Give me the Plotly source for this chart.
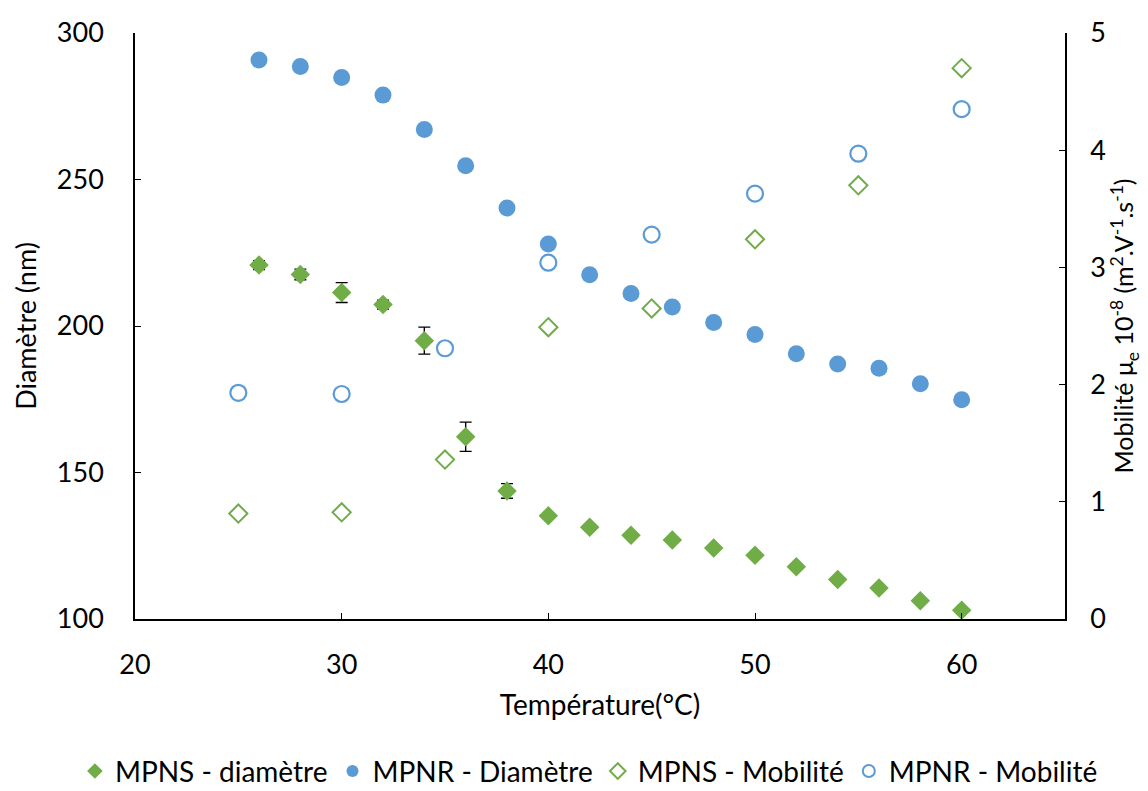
import plotly.graph_objects as go

# MPNS diameter (filled green diamonds) with error bars
mpns_d_x = [26, 28, 30, 32, 34, 36, 38, 40, 42, 44, 46, 48, 50, 52, 54, 56, 58, 60]
mpns_d_y = [220.8, 217.6, 211.4, 207.3, 195.0, 162.2, 143.7, 135.2, 131.3, 128.6, 127.0, 124.2, 121.8, 117.8, 113.5, 110.6, 106.2, 103.0]
mpns_d_err = [1.5, 1.8, 3.4, 1.5, 4.6, 5.0, 2.5, 0, 0, 0, 0, 0, 0, 0, 0, 0, 0, 0]

# MPNR diameter (filled blue circles)
mpnr_d_x = [26, 28, 30, 32, 34, 36, 38, 40, 42, 44, 46, 48, 50, 52, 54, 56, 58, 60]
mpnr_d_y = [290.8, 288.6, 284.8, 278.8, 267.1, 254.7, 240.3, 228.0, 217.5, 211.1, 206.5, 201.2, 197.1, 190.5, 187.0, 185.6, 180.3, 174.8]

# Mobility (right axis)
mob_x = [25, 30, 35, 40, 45, 50, 55, 60]
mpns_mob = [0.90, 0.91, 1.36, 2.49, 2.65, 3.24, 3.70, 4.70]
mpnr_mob = [1.93, 1.92, 2.31, 3.04, 3.28, 3.63, 3.97, 4.35]

green = "#70AD47"
blue = "#5B9BD5"
font = "Lato, Calibri, Carlito, sans-serif"

fig = go.Figure()
fig.add_trace(go.Scatter(
    x=mpns_d_x, y=mpns_d_y, mode="markers", name="MPNS - diamètre",
    marker=dict(symbol="diamond", size=15, color=green, line=dict(width=0)),
    error_y=dict(type="data", array=mpns_d_err, visible=True, color="black", thickness=1.4, width=6),
))
fig.add_trace(go.Scatter(
    x=mpnr_d_x, y=mpnr_d_y, mode="markers", name="MPNR - Diamètre",
    marker=dict(symbol="circle", size=17, color=blue, line=dict(width=0)),
))
fig.add_trace(go.Scatter(
    x=mob_x, y=mpns_mob, mode="markers", name="MPNS - Mobilité", yaxis="y2",
    marker=dict(symbol="diamond-open", size=14, color=green, line=dict(width=2, color=green)),
))
fig.add_trace(go.Scatter(
    x=mob_x, y=mpnr_mob, mode="markers", name="MPNR - Mobilité", yaxis="y2",
    marker=dict(symbol="circle-open", size=16, color=blue, line=dict(width=2.2, color=blue)),
))

axis_common = dict(showgrid=False, zeroline=False, showline=True, linecolor="black", linewidth=1.5,
                   ticks="inside", ticklen=6, tickcolor="black", tickwidth=1.3,
                   tickfont=dict(family=font, size=27, color="black"))

W = 1148
fig.update_layout(
    width=W, height=791,
    paper_bgcolor="white", plot_bgcolor="white",
    margin=dict(l=0, r=0, t=25, b=180, autoexpand=False),
    font=dict(family=font, color="black"),
    xaxis=dict(range=[20, 65], dtick=10, tick0=20, ticklabelstandoff=21,
               domain=[127 / W, 1057 / W],
               title=dict(text="Température(°C)", font=dict(family=font, size=28), standoff=16),
               **axis_common),
    yaxis=dict(range=[100, 300], dtick=50, ticklabelstandoff=24,
               title=dict(text="Diamètre (nm)", font=dict(family=font, size=27), standoff=12),
               **axis_common),
    yaxis2=dict(range=[0, 5], dtick=1, overlaying="y", side="right", ticklabelstandoff=18,
                title=dict(text="Mobilité μ<sub>e</sub> 10<sup>-8</sup> (m<sup>2</sup>.V<sup>-1</sup>.s<sup>-1</sup>)",
                           font=dict(family=font, size=25), standoff=8),
                **axis_common),
    legend=dict(orientation="h", x=0.506, xanchor="center", y=-0.26, yanchor="middle",
                font=dict(family=font, size=28, color="black"), itemsizing="constant",
                itemwidth=30, tracegroupgap=0),
    showlegend=True,
)

fig.write_html("out.html")
